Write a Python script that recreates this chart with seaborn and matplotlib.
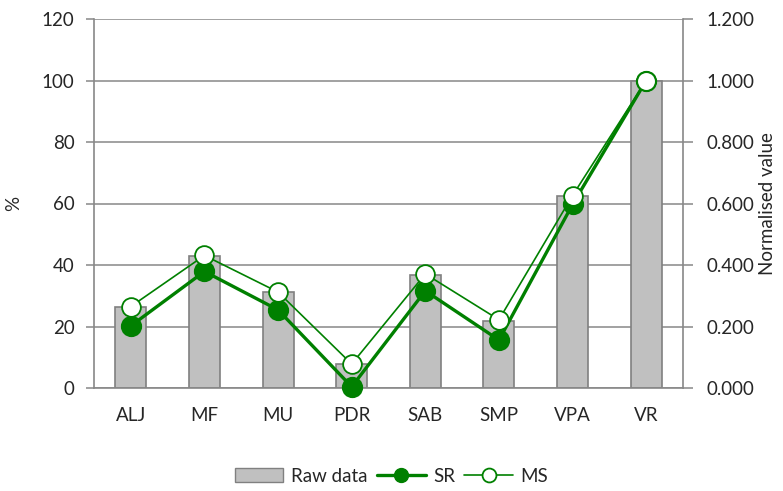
import matplotlib
matplotlib.use("Agg")
import matplotlib.pyplot as plt
import seaborn as sns
import numpy as np
import pandas as pd
from matplotlib.patches import Patch
from matplotlib.lines import Line2D
from matplotlib.ticker import FixedLocator, FuncFormatter

categories = ["ALJ", "MF", "MU", "PDR", "SAB", "SMP", "VPA", "VR"]
raw_data = [26.3, 42.8, 31.1, 7.7, 36.6, 21.8, 62.4, 100.0]
sr_values = [0.202, 0.379, 0.254, 0.004, 0.316, 0.156, 0.597, 1.000]
ms_values = [0.265, 0.431, 0.312, 0.078, 0.371, 0.222, 0.626, 1.000]
left_ticks = [0, 20, 40, 60, 80, 100, 120]
right_ticks = [0.0, 0.2, 0.4, 0.6, 0.8, 1.0, 1.2]

sns.set_style("white")
plt.rcParams["font.family"] = ["Lato", "DejaVu Sans"]

df = pd.DataFrame({"cat": categories, "raw": raw_data, "SR": sr_values, "MS": ms_values})

fig = plt.figure(figsize=(7.83, 4.91), dpi=100)
ax = fig.add_axes([94 / 783, 1 - 388 / 491, (683 - 94) / 783, (388 - 19) / 491])

green = "#008000"
gray = "#888888"
fs = 13.5
msz = 13.5

sns.barplot(data=df, x="cat", y="raw", ax=ax, color="#C0C0C0", width=0.42,
            edgecolor="#808080", linewidth=1.2, saturation=1, zorder=2)
for p in ax.patches:
    p.set_facecolor("#C0C0C0")

ax.set_ylim(0, 120)
ax.set_xlim(-0.5, 7.5)
ax.yaxis.set_major_locator(FixedLocator(left_ticks))
ax.grid(axis="y", color=gray, linewidth=1.1, zorder=0)
ax.set_axisbelow(True)
ax.set_xlabel("")
ax.set_ylabel("%", fontsize=fs, labelpad=14)
ax.tick_params(axis="x", which="major", length=0, labelsize=fs, pad=14)
ax.set_xticks(np.arange(-0.5, 8, 1), minor=True)
ax.tick_params(axis="x", which="minor", length=6, color=gray, width=1.1)
ax.tick_params(axis="y", length=6, color=gray, width=1.1, labelsize=fs, pad=8, left=True)
for s in ["left", "bottom", "right"]:
    ax.spines[s].set_color(gray)
    ax.spines[s].set_linewidth(1.2)
ax.spines["top"].set_visible(False)

ax2 = ax.twinx()
sns.pointplot(data=df, x="cat", y="SR", ax=ax2, color=green, markers="o",
              linestyles="-", markersize=msz, linewidth=2.4, zorder=5)
sns.pointplot(data=df, x="cat", y="MS", ax=ax2, color=green, markers="o",
              linestyles="-", markersize=msz, linewidth=1.2, zorder=6,
              markerfacecolor="white", markeredgewidth=1.3)
ax2.set_ylim(0, 1.2)
ax2.set_xlim(-0.5, 7.5)
ax2.yaxis.set_major_locator(FixedLocator(right_ticks))
ax2.yaxis.set_major_formatter(FuncFormatter(lambda v, p: f"{v:.3f}"))
ax2.set_ylabel("Normalised value", fontsize=fs, labelpad=3)
ax2.set_xlabel("")
ax2.tick_params(axis="y", length=7, color=gray, width=1.1, labelsize=fs, pad=10, right=True)
for s in ["left", "bottom", "right", "top"]:
    ax2.spines[s].set_visible(False)
for ln in ax2.lines:
    ln.set_clip_on(False)
for c in ax2.collections:
    c.set_clip_on(False)

handles = [
    Patch(facecolor="#C0C0C0", edgecolor="#808080", label="Raw data"),
    Line2D([0], [0], color=green, lw=2.4, marker="o", markersize=10, label="SR"),
    Line2D([0], [0], color=green, lw=1.2, marker="o", markersize=10,
           markerfacecolor="white", markeredgewidth=1.3, label="MS"),
]
fig.legend(handles=handles, loc="center", bbox_to_anchor=(0.5, 1 - 476 / 491), ncol=3,
           frameon=False, fontsize=fs, handlelength=2.6, columnspacing=0.5,
           handletextpad=0.4)

fig.savefig("out.png", dpi=100)
